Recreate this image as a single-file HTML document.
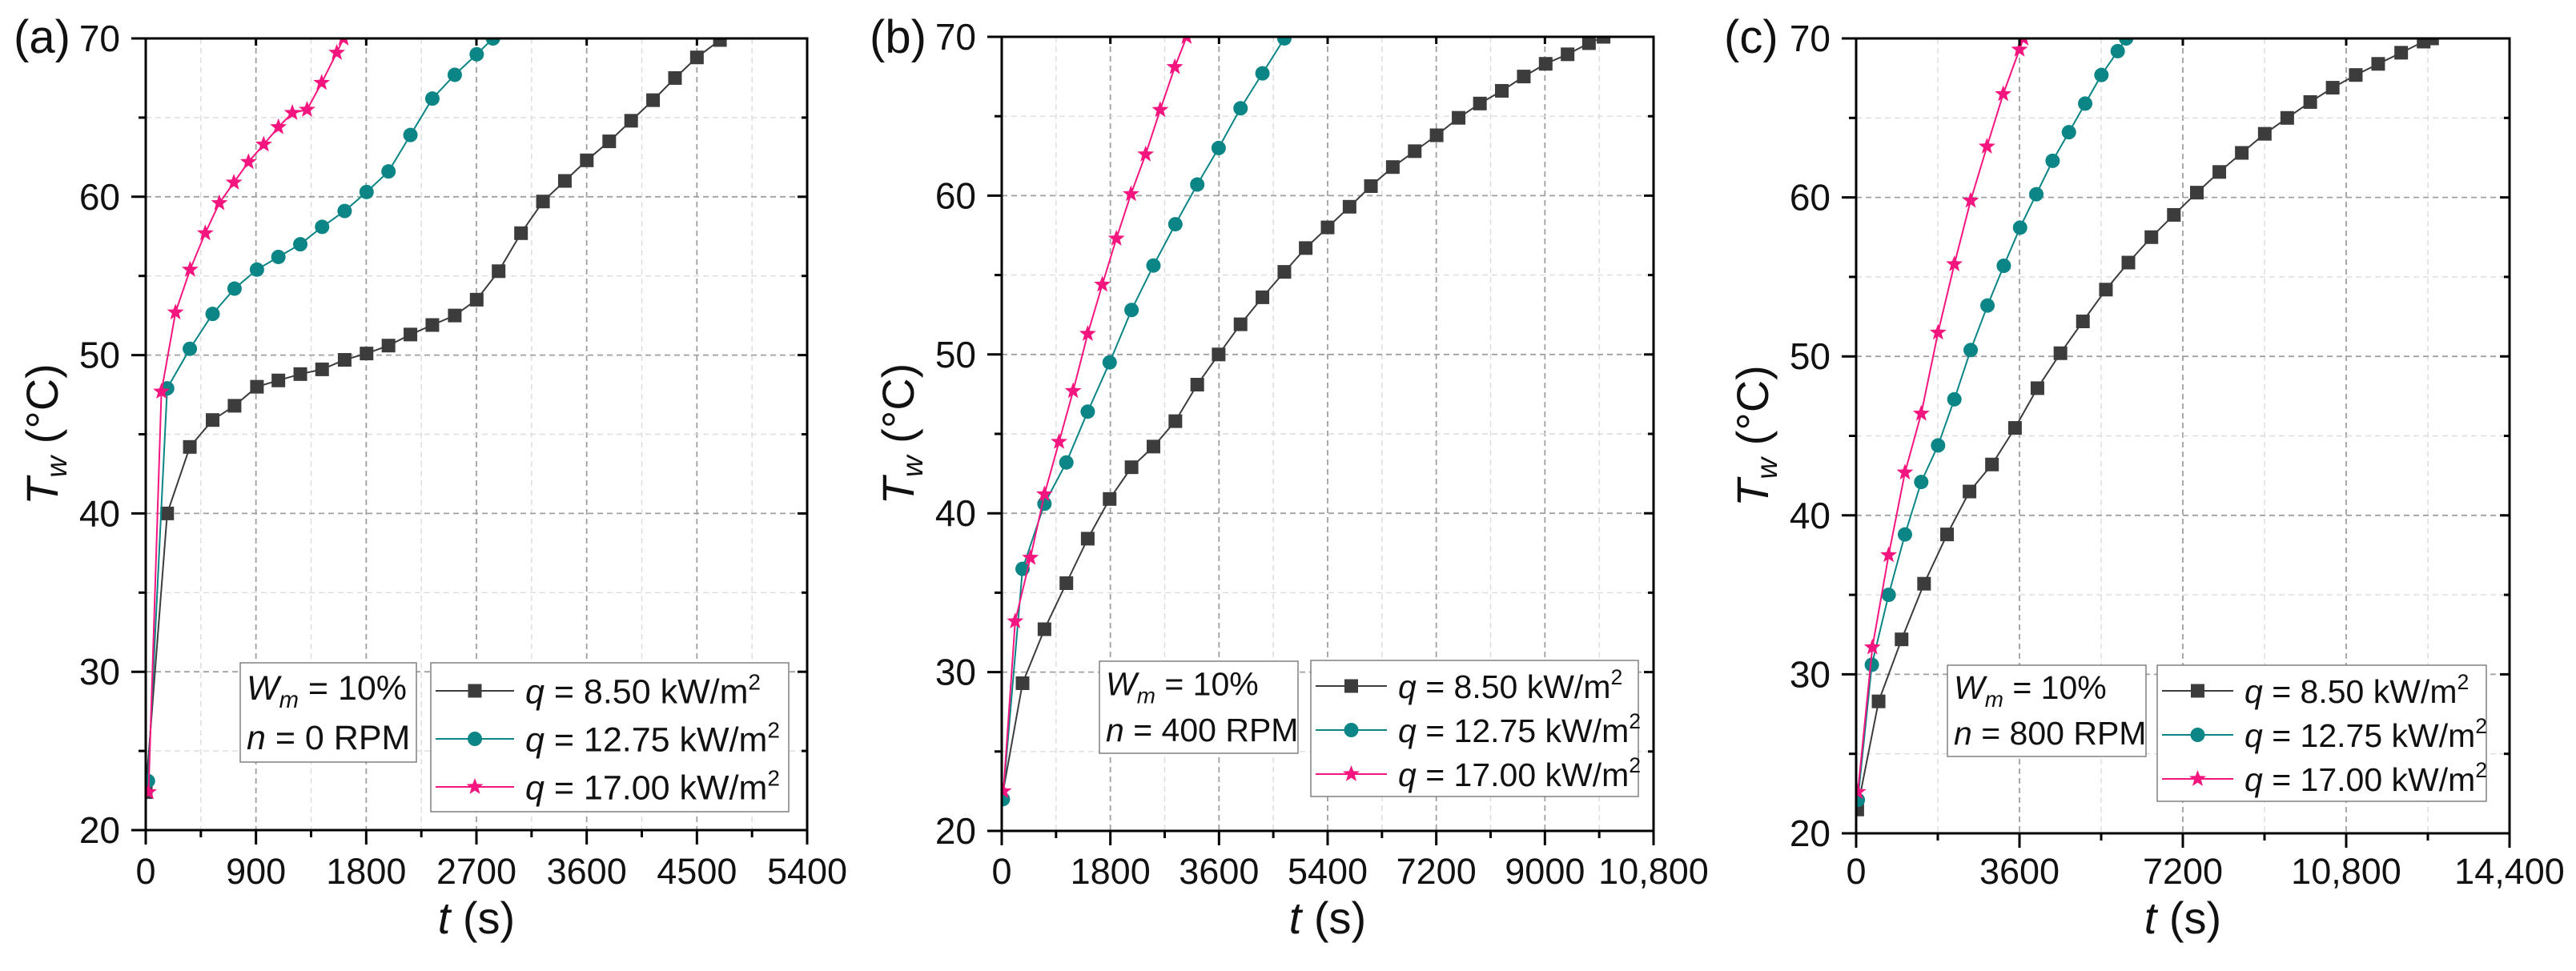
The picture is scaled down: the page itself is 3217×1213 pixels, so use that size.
<!DOCTYPE html>
<html><head><meta charset="utf-8"><style>
html,body{margin:0;padding:0;background:#fff;}
svg{display:block;font-family:"Liberation Sans",Arial,sans-serif;}
</style></head><body>
<svg id="fig" width="3217" height="1213" viewBox="0 0 3217 1213" xmlns="http://www.w3.org/2000/svg"></svg>
<script>
// ---- Data (t in s, Tw in °C) ----
const aBlackT=[0,175,360,546,725,908,1083,1262,1440,1624,1803,1982,2161,2340,2523,2702,2881,3064,3243,3422,3601,3784,3963,4142,4321,4500,4688];
const aBlackY=[22.4,40.0,44.2,45.9,46.8,48.0,48.4,48.8,49.1,49.7,50.1,50.6,51.3,51.9,52.5,53.5,55.3,57.7,59.7,61.0,62.3,63.5,64.8,66.1,67.5,68.8,69.9];
const aTealT=[18,175,360,546,725,908,1083,1262,1440,1624,1803,1982,2161,2340,2523,2702,2835];
const aTealY=[23.1,47.9,50.4,52.6,54.2,55.4,56.2,57.0,58.1,59.1,60.3,61.6,63.9,66.2,67.7,69.0,70.0];
const aPinkT=[23,128,243,362,486,601,720,839,963,1083,1197,1317,1436,1560,1615];
const aPinkY=[22.4,47.7,52.7,55.4,57.7,59.6,60.9,62.2,63.3,64.4,65.3,65.5,67.2,69.1,70.0];

const bBlackT=[345,708,1071,1425,1788,2151,2514,2877,3240,3594,3957,4320,4683,5037,5400,5763,6117,6480,6843,7206,7570,7923,8286,8650,9013,9376,9730,9972];
const bBlackY=[29.3,32.7,35.6,38.4,40.9,42.9,44.2,45.8,48.1,50.0,51.9,53.6,55.2,56.7,58.0,59.3,60.6,61.8,62.8,63.8,64.9,65.8,66.6,67.5,68.3,68.9,69.6,70.0];
const bTealT=[19,345,708,1071,1425,1788,2151,2514,2877,3240,3594,3957,4320,4683];
const bTealY=[22.0,36.5,40.6,43.2,46.4,49.5,52.8,55.6,58.2,60.7,63.0,65.5,67.7,69.9];
const bPinkT=[28,223,475,708,950,1183,1425,1667,1900,2142,2384,2626,2868,3063];
const bPinkY=[22.5,33.2,37.2,41.2,44.5,47.7,51.3,54.4,57.3,60.1,62.6,65.4,68.1,70.0];

const cBlackT=[25,495,1002,1497,2004,2499,2994,3501,3996,4503,4998,5505,6000,6507,7002,7509,8004,8499,9006,9501,10008,10503,11011,11505,12012,12507,12693];
const cBlackY=[21.5,28.3,32.2,35.7,38.8,41.5,43.2,45.5,48.0,50.2,52.2,54.2,55.9,57.5,58.9,60.3,61.6,62.8,64.0,65.0,66.0,66.9,67.7,68.4,69.1,69.8,70.0];
const cTealT=[37,346,717,1076,1435,1806,2165,2524,2895,3254,3613,3971,4330,4689,5048,5406,5765,5950];
const cTealY=[22.1,30.6,35.0,38.8,42.1,44.4,47.3,50.4,53.2,55.7,58.1,60.2,62.3,64.1,65.9,67.7,69.2,70.0];
const cPinkT=[37,359,717,1076,1435,1806,2165,2524,2883,3241,3600,3687];
const cPinkY=[22.6,31.7,37.5,42.7,46.4,51.5,55.8,59.8,63.2,66.5,69.3,70.0];

const aTicks=["0","900","1800","2700","3600","4500","5400"];
const bTicks=["0","1800","3600","5400","7200","9000","10,800"];
const cTicks=["0","3600","7200","10,800","14,400"];
const yTicks=["20","30","40","50","60","70"];

const NS="http://www.w3.org/2000/svg";
const svg=document.getElementById('fig');
function mk(tag,attrs,parent){const e=document.createElementNS(NS,tag);for(const k in attrs)e.setAttribute(k,attrs[k]);(parent||svg).appendChild(e);return e;}
const COL={black:"#3c3c3c",teal:"#0b8585",pink:"#f5157f"};

function marker(g,type,x,y,color){
  let m;
  if(type==='square'){m=mk('rect',{x:x-8.5,y:y-8.5,width:17,height:17,fill:color},g);}
  else if(type==='circle'){m=mk('circle',{cx:x,cy:y,r:9,fill:color},g);}
  else{let p=[];for(let i=0;i<10;i++){const r=i%2?4.6:11;const a=-Math.PI/2+i*Math.PI/5;p.push((x+r*Math.cos(a)).toFixed(1)+','+(y+r*Math.sin(a)).toFixed(1));}
    m=mk('polygon',{points:p.join(' '),fill:color},g);}
  return m;
}

function panel(P){
  const g=mk('g',{});
  
  
  const L=P.L,R=P.R,T=P.T,B=P.B;
  const xs=v=>L+(v/P.xmax)*(R-L);
  const ys=v=>B-((v-20)/50)*(B-T);
  const clipId='clip'+P.id;
  const cp=mk('clipPath',{id:clipId},g);mk('rect',{x:L,y:T-1,width:R-L,height:B-T+2},cp);
  const grid=mk('g',{},g);
  
  
  for(let v=P.xminor;v<P.xmax;v+=P.xminor){
    const major=Math.abs(v/P.xmajor-Math.round(v/P.xmajor))<1e-6;
    mk('line',{x1:xs(v),x2:xs(v),y1:T,y2:B,stroke:major?'#a0a0a0':'#dcdcdc','stroke-width':major?1.8:1.4,'stroke-dasharray':'7 5'},grid);
  }
  for(let v=25;v<70;v+=5){
    const major=v%10===0;
    mk('line',{x1:L,x2:R,y1:ys(v),y2:ys(v),stroke:major?'#a0a0a0':'#dcdcdc','stroke-width':major?1.8:1.4,'stroke-dasharray':'7 5'},grid);
  }
  const series=[[P.bt,P.by,'square',COL.black,'series-8-50'],[P.tt,P.ty,'circle',COL.teal,'series-12-75'],[P.pt,P.py,'star',COL.pink,'series-17-00']];
  for(const s of series){
    const sg=mk('g',{'clip-path':'url(#'+clipId+')'},g);
    
    
    const pts=s[0].map((t,i)=>xs(t).toFixed(1)+','+ys(s[1][i]).toFixed(1));
    if(s[2]==='square' && P.id!=='a'){pts.unshift(xs(0)+','+ys(22));}
    mk('polyline',{points:pts.join(' '),fill:'none',stroke:s[3],'stroke-width':2},sg);
    s[0].forEach((t,i)=>{const m=marker(sg,s[2],xs(t),ys(s[1][i]),s[3]);
      
      });
  }
  const fr=mk('rect',{x:L,y:T,width:R-L,height:B-T,fill:'none',stroke:'#000','stroke-width':3},g);
  
  
  for(let v=0;v<=P.xmax+1e-6;v+=P.xminor){
    const major=Math.abs(v/P.xmajor-Math.round(v/P.xmajor))<1e-6;
    mk('line',{x1:xs(v),x2:xs(v),y1:B,y2:B+(major?18:9),stroke:'#000','stroke-width':3},g);
    mk('line',{x1:xs(v),x2:xs(v),y1:T,y2:T+(major?9:0),stroke:'#000','stroke-width':3},g);
  }
  P.ticks.forEach((lab,i)=>{
    const tx=mk('text',{x:xs(i*P.xmajor),y:1104,'font-size':45,'text-anchor':'middle',fill:'#111'},g);
    tx.textContent=lab;
    
    
  });
  for(let v=20;v<=70;v+=5){
    const major=v%10===0;
    mk('line',{x1:L-(major?18:9),x2:L,y1:ys(v),y2:ys(v),stroke:'#000','stroke-width':3},g);
    mk('line',{x1:R-(major?12:7),x2:R,y1:ys(v),y2:ys(v),stroke:'#000','stroke-width':3},g);
  }
  yTicks.forEach(lab=>{
    const ty=mk('text',{x:L-32,y:ys(+lab)+16,'font-size':46,'text-anchor':'end',fill:'#111'},g);
    ty.textContent=lab;
    
    
  });
  const xt=mk('text',{x:(L+R)/2,y:1166,'font-size':56,'text-anchor':'middle',fill:'#111'},g);
  xt.innerHTML='<tspan font-style="italic">t</tspan> (s)';
  
  
  const yt=mk('text',{x:0,y:0,'font-size':56,'text-anchor':'middle',fill:'#111',transform:'translate('+(L-110)+','+((T+B)/2)+') rotate(-90)'},g);
  yt.innerHTML='<tspan font-style="italic">T</tspan><tspan font-style="italic" font-size="37" dy="11">w</tspan><tspan dy="-11"> (°C)</tspan>';
  
  
  const pl=mk('text',{x:L-165,y:66,'font-size':58,fill:'#111'},g);
  pl.textContent='('+P.id+')';
  
  
  const ib=mk('g',{},g);
  
  
  mk('rect',{x:P.ix,y:P.iy,width:P.iw,height:P.ih,fill:'#fff',stroke:'#777','stroke-width':1.4},ib);
  const t1=mk('text',{x:P.ix+8,y:P.iy+P.ih*0.37,'font-size':P.fs,fill:'#111'},ib);
  t1.innerHTML='<tspan font-style="italic">W</tspan><tspan font-style="italic" font-size="'+(P.fs*0.68)+'" dy="10">m</tspan><tspan dy="-10"> = 10%</tspan>';
  const t2=mk('text',{x:P.ix+8,y:P.iy+P.ih*0.87,'font-size':P.fs,fill:'#111'},ib);
  t2.innerHTML='<tspan font-style="italic">n</tspan> = '+P.rpm+' RPM';
  const lg=mk('g',{},g);
  
  
  mk('rect',{x:P.lx,y:P.ly,width:P.lw,height:P.lh,fill:'#fff',stroke:'#777','stroke-width':1.4},lg);
  const labs=['8.50','12.75','17.00'];
  series.forEach((s,i)=>{
    const ry=P.ly+P.r0+i*P.rs;
    const e=mk('g',{},lg);
    
    
    mk('line',{x1:P.lx+6,x2:P.lx+P.lineW,y1:ry,y2:ry,stroke:s[3],'stroke-width':2},e);
    marker(e,s[2],P.lx+(6+P.lineW)/2,ry,s[3]);
    const tt=mk('text',{x:P.lx+P.lineW+14,y:ry+P.fs*0.36,'font-size':P.fs,fill:'#111'},e);
    tt.innerHTML='<tspan font-style="italic">q</tspan> = '+labs[i]+' kW/m<tspan font-size="'+(P.fs*0.65)+'" dy="-17">2</tspan>';
  });
}

panel({id:'a',L:182,R:1008,T:48,B:1037,xmax:5400,xmajor:900,xminor:450,ticks:aTicks,
  bt:aBlackT,by:aBlackY,tt:aTealT,ty:aTealY,pt:aPinkT,py:aPinkY,fs:43,
  ix:300,iy:828,iw:220,ih:124,rpm:'0',lx:538,ly:828,lw:447,lh:186,r0:35,rs:60,lineW:104});
panel({id:'b',L:1251,R:2065,T:46,B:1038,xmax:10800,xmajor:1800,xminor:900,ticks:bTicks,
  bt:bBlackT,by:bBlackY,tt:bTealT,ty:bTealY,pt:bPinkT,py:bPinkY,fs:41,
  ix:1373,iy:826,iw:248,ih:115,rpm:'400',lx:1637,ly:825,lw:409,lh:170,r0:32,rs:55,lineW:95});
panel({id:'c',L:2318,R:3134,T:48,B:1041,xmax:14400,xmajor:3600,xminor:1800,ticks:cTicks,
  bt:cBlackT,by:cBlackY,tt:cTealT,ty:cTealY,pt:cPinkT,py:cPinkY,fs:41,
  ix:2432,iy:831,iw:248,ih:114,rpm:'800',lx:2694,ly:831,lw:411,lh:170,r0:32,rs:55,lineW:95});
</script>
</body></html>
